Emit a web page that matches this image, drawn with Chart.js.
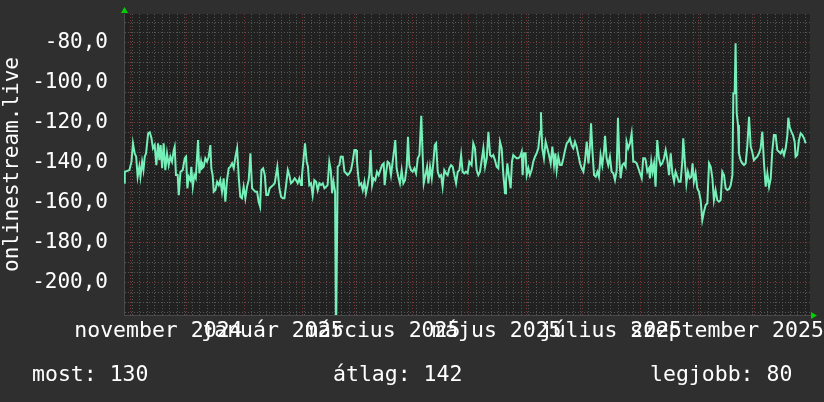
<!DOCTYPE html>
<html><head><meta charset="utf-8">
<script src="https://cdn.jsdelivr.net/npm/chart.js@4/dist/chart.umd.min.js"></script>
<style>html,body{margin:0;padding:0;background:#2f2f2f;overflow:hidden}canvas{display:block}</style>
</head><body>
<canvas id="c" width="824" height="402"></canvas>
<script>
// ---- data (x = days since 1 Nov 2024, y = signal value) ----
const seriesName = 'onlinestream.live';
const days = [-3.3,-3.0,-0.5,0.6,1.4,2.3,3.1,3.9,4.8,5.4,6.3,7.0,7.7,8.4,9.5,10.4,11.3,12.1,13.0,13.9,14.8,15.5,16.2,17.0,17.8,18.7,19.6,20.5,21.4,22.3,23.2,23.7,24.4,25.3,25.9,26.8,28.0,29.1,29.8,30.5,31.2,32.1,32.6,33.4,34.2,35.0,36.2,36.9,37.8,38.3,39.2,40.1,41.0,41.9,42.8,43.3,44.0,44.6,45.5,46.4,47.3,48.1,49.0,49.9,50.8,51.7,52.6,53.5,54.4,55.3,56.2,57.1,58.0,58.8,59.7,60.6,61.5,62.4,63.3,64.2,65.1,66.0,66.9,67.8,68.6,69.4,70.1,71.0,71.9,72.7,73.6,74.5,75.4,76.3,77.2,77.9,78.6,79.7,80.6,81.5,82.4,83.3,84.2,85.0,85.9,86.8,87.9,
88.6,89.5,90.4,91.3,91.8,92.5,93.4,94.3,95.0,95.7,96.6,97.5,98.4,99.3,100.2,101.1,102.0,102.9,103.8,104.7,105.5,106.4,107.2,107.9,108.6,109.5,110.0,110.5,110.9,111.8,112.5,113.6,114.5,115.4,116.2,117.1,118.0,118.9,119.8,120.7,121.2,121.9,122.5,123.4,124.3,125.2,126.0,126.9,127.8,128.5,129.3,130.1,131.0,131.9,132.8,133.7,134.6,135.5,136.0,136.7,137.6,138.5,139.4,140.3,141.2,141.7,142.4,143.3,144.2,145.1,146.0,146.9,147.8,148.5,149.2,150.1,151.0,151.9,152.8,153.7,154.6,155.1,155.6,156.4,156.9,157.8,158.7,159.4,160.3,161.2,162.1,162.8,163.5,164.4,165.3,166.2,167.0,167.9,168.8,169.7,170.6,171.5,172.4,173.3,174.2,175.1,176.0,176.9,177.7,178.6,179.5,180.4,181.3,
182.5,183.4,184.3,185.2,186.1,187.0,187.9,188.8,189.7,190.6,191.5,192.4,193.2,194.1,195.0,195.9,196.8,197.7,198.6,199.5,200.4,200.9,201.6,202.5,203.4,204.1,204.8,205.7,206.6,207.5,208.4,209.3,209.8,210.5,211.4,212.0,212.9,213.7,214.6,215.5,216.4,217.3,218.2,219.1,219.6,220.3,221.2,222.1,223.0,223.9,224.8,225.7,226.6,227.3,228.0,228.9,229.8,230.7,231.6,232.5,233.4,234.2,235.1,236.0,236.9,237.8,238.7,239.6,240.5,241.4,242.3,243.2,244.1,245.0,245.8,246.4,247.1,248.0,248.9,249.8,250.6,251.5,252.4,253.3,253.9,254.7,255.6,256.5,257.4,258.3,259.2,260.1,260.8,261.5,262.2,263.1,264.0,264.9,265.4,266.3,267.2,268.1,269.0,269.9,270.8,271.7,272.6,273.5,274.3,275.2,
275.6,276.5,277.4,277.9,278.6,279.3,280.1,280.9,281.8,282.7,283.6,284.5,285.4,286.3,287.2,288.1,289.0,289.9,290.8,291.6,292.5,293.4,294.3,295.2,295.7,296.5,297.4,298.2,299.1,300.0,300.7,301.4,302.3,303.2,304.1,305.0,305.9,306.8,307.7,308.6,309.5,310.4,311.3,312.1,313.0,313.9,314.8,315.7,316.6,317.5,318.4,319.3,320.2,321.1,322.0,322.5,323.2,323.7,324.3,325.0,325.5,326.4,327.3,328.2,329.1,330.0,330.9,331.8,332.6,333.5,334.4,335.3,336.2,337.1,338.0,338.9,339.8,340.7,341.6,342.5,343.3,344.2,345.1,346.0,346.9,347.8,348.7,349.6,350.5,351.4,351.9,352.6,353.5,354.4,355.3,355.8,356.7,357.6,358.5,359.4,360.3,361.2];
const values = [-150.0,-144.5,-143.7,-139.5,-130.3,-135.3,-137.0,-147.0,-142.0,-147.0,-139.5,-143.7,-137.0,-135.3,-125.3,-124.8,-127.8,-132.8,-131.2,-141.2,-130.3,-138.7,-131.2,-142.8,-130.3,-143.7,-135.3,-141.2,-137.0,-139.5,-133.7,-132.0,-146.2,-146.2,-156.2,-144.5,-143.7,-137.8,-137.0,-152.8,-147.0,-148.7,-142.0,-152.0,-146.2,-147.8,-128.7,-145.3,-139.5,-142.8,-142.0,-137.8,-139.5,-137.0,-131.2,-142.8,-146.2,-154.5,-153.7,-149.5,-151.2,-148.7,-154.5,-147.8,-159.5,-148.7,-142.8,-142.0,-140.3,-142.8,-137.0,-132.8,-147.8,-157.0,-157.8,-152.0,-157.8,-152.0,-148.7,-135.3,-152.8,-153.7,-154.5,-154.5,-159.5,-162.0,-143.7,-142.8,-146.2,-156.2,-156.2,-152.8,-152.0,-151.2,-150.3,-146.2,-142.0,-152.8,-157.0,-157.8,-157.8,-151.2,-143.7,-146.2,-150.3,-149.5,-147.8,
-148.7,-150.3,-147.8,-151.2,-146.2,-139.5,-130.3,-139.5,-142.0,-151.2,-150.3,-156.2,-148.7,-149.5,-153.7,-150.3,-151.2,-150.3,-152.8,-152.0,-151.2,-139.5,-143.7,-155.3,-149.5,-154.5,-230,-230,-142.0,-141.2,-137.0,-137.0,-144.5,-145.3,-146.2,-145.3,-143.7,-139.5,-133.7,-133.7,-139.5,-147.0,-151.2,-150.3,-153.7,-149.5,-155.3,-151.2,-146.2,-133.7,-151.2,-147.8,-148.7,-144.5,-146.2,-143.7,-141.2,-140.3,-151.2,-145.3,-139.5,-140.3,-146.2,-139.5,-132.8,-128.7,-142.8,-147.0,-150.3,-143.7,-150.3,-148.7,-142.0,-127.0,-141.2,-143.7,-144.5,-142.8,-145.3,-137.8,-136.2,-126.2,-116.5,-137.8,-150.3,-146.2,-142.0,-150.3,-142.0,-147.8,-139.5,-131.2,-130.3,-144.5,-147.0,-146.2,-152.0,-143.7,-145.3,-146.2,-142.8,-141.2,-142.0,-146.2,-150.3,-144.5,-143.7,-136.2,-144.5,-145.3,-144.5,-145.3,-139.5,
-141.2,-130.3,-132.8,-143.7,-146.2,-144.5,-138.7,-132.8,-142.0,-137.8,-124.5,-136.2,-137.0,-136.2,-138.7,-142.0,-142.8,-129.5,-132.8,-146.2,-155.3,-149.5,-140.3,-147.0,-152.8,-139.5,-136.2,-137.0,-137.8,-137.8,-137.0,-134.5,-146.2,-135.3,-135.3,-146.2,-142.8,-146.2,-143.7,-139.5,-137.0,-135.3,-132.8,-124.5,-114.8,-132.8,-137.8,-129.5,-132.8,-136.2,-140.3,-132.0,-141.2,-135.3,-143.7,-137.0,-141.2,-141.2,-137.8,-133.7,-130.3,-129.5,-127.8,-131.2,-132.8,-129.5,-132.0,-136.2,-140.3,-142.8,-144.5,-138.7,-129.5,-140.3,-132.0,-120.3,-133.7,-146.2,-147.0,-144.5,-147.0,-136.2,-141.2,-134.5,-126.5,-137.8,-141.2,-137.0,-144.5,-145.3,-148.7,-143.7,-117.5,-137.8,-147.8,-141.2,-140.3,-142.0,-129.5,-132.8,-130.3,-125.3,-139.5,-139.5,-140.3,-142.8,-145.3,-147.8,-137.8,-137.8,
-138.7,-144.5,-142.8,-147.8,-139.5,-144.5,-140.3,-152.0,-128.7,-137.8,-141.2,-140.3,-137.8,-133.7,-138.7,-146.2,-135.3,-145.3,-149.5,-144.5,-147.0,-149.5,-149.5,-139.5,-127.8,-138.7,-150.3,-144.5,-147.8,-147.0,-140.3,-149.5,-145.3,-152.8,-154.5,-158.7,-168.7,-164.5,-161.2,-160.3,-140.3,-142.0,-147.8,-158.7,-153.7,-158.7,-159.5,-158.7,-144.5,-146.2,-152.8,-153.7,-153.2,-151.2,-146.2,-105.3,-105.3,-80.3,-115.3,-121.2,-135.3,-138.7,-140.3,-141.2,-140.3,-131.2,-117.0,-132.0,-134.5,-138.7,-137.8,-137.0,-135.3,-132.8,-124.5,-140.3,-152.0,-145.3,-152.0,-147.8,-134.5,-126.2,-126.2,-133.7,-134.5,-135.3,-133.7,-136.2,-132.8,-126.2,-117.5,-122.0,-124.5,-126.2,-129.5,-137.0,-136.2,-128.7,-125.3,-126.2,-127.8,-130.3];

// month starts (days since 1 Nov 2024) for the major grid
const monthStarts = [0,30,61,92,120,151,181,212,242,273,304,334];
// minor grid every 4 days from the first day shown
const minorDays = [-3,1,5,9,13,17,21,25,29,33,37,41,45,49,53,57,61,65,69,73,77,81,85,89,93,97,101,105,109,113,117,121,125,129,133,137,141,145,149,153,157,161,165,169,173,177,181,185,189,193,197,201,205,209,213,217,221,225,229,233,237,241,245,249,253,257,261,265,269,273,277,281,285,289,293,297,301,305,309,313,317,321,325,329,333,337,341,345,349,353,357,361];
// month labels, centered mid-month
const labelDays = [15,76,135,196,257,319];
const monthLabels = ['november 2024','január 2025','március 2025','május 2025','július 2025','szeptember 2025'];
// y grid: minor step 5, labelled every 20
const yGrid = [-215,-210,-205,-200,-195,-190,-185,-180,-175,-170,-165,-160,-155,-150,-145,-140,-135,-130,-125,-120,-115,-110,-105,-100,-95,-90,-85,-80,-75,-70];
const yLabelled = [-200,-180,-160,-140,-120,-100,-80];
// legend summary
const statNames = ['most','átlag','legjobb'];
const statValues = [130,142,80];

const FONT = 'DejaVu Sans Mono';
const GRAY = '#555555', RED = '#7a3434', LINE = '#74f0b8';
const X_MIN = -3.4, X_MAX = 363.5, Y_MIN = -216.15, Y_MAX = -65.65;

const bgPlugin = {
  id: 'bg',
  beforeDraw(chart) {
    const {ctx, chartArea: a} = chart;
    ctx.save();
    ctx.fillStyle = '#2f2f2f';
    ctx.fillRect(0, 0, chart.width, chart.height);
    ctx.fillStyle = '#212121';
    ctx.fillRect(a.left, a.top, a.right - a.left, a.bottom - a.top);
    ctx.restore();
  },
  afterDraw(chart) {
    const {ctx, chartArea: a} = chart;
    ctx.save();
    ctx.fillStyle = '#00d000';
    ctx.beginPath();
    ctx.moveTo(a.left - 3, a.top - 1); ctx.lineTo(a.left + 4, a.top - 1); ctx.lineTo(a.left + 0.5, a.top - 7);
    ctx.closePath(); ctx.fill();
    ctx.beginPath();
    ctx.moveTo(a.right + 1, a.bottom - 3); ctx.lineTo(a.right + 1, a.bottom + 4); ctx.lineTo(a.right + 7, a.bottom + 0.5);
    ctx.closePath(); ctx.fill();
    ctx.fillStyle = '#ffffff';
    ctx.font = '21.5px "' + FONT + '"';
    ctx.textBaseline = 'middle';
    ctx.textAlign = 'left';
    const xs = [32, 333, 650];
    statNames.forEach((n, i) => ctx.fillText(n + ': ' + statValues[i], xs[i], 375));
    ctx.restore();
  }
};

new Chart(document.getElementById('c'), {
  type: 'line',
  data: {
    datasets: [{
      label: seriesName,
      data: days.map((d, i) => ({x: d, y: values[i]})),
      borderColor: LINE,
      borderWidth: 2,
      pointRadius: 0,
      tension: 0,
      fill: false
    }]
  },
  options: {
    responsive: false,
    animation: false,
    events: [],
    layout: {padding: {top: 14, right: 14, left: 0, bottom: 0}},
    plugins: {legend: {display: false}, tooltip: {enabled: false}},
    scales: {
      x: {
        type: 'linear', position: 'bottom', min: X_MIN, max: X_MAX, weight: 0,
        afterBuildTicks: s => { s.ticks = minorDays.filter(v => v >= X_MIN && v <= X_MAX && !monthStarts.includes(v)).map(v => ({value: v})); },
        afterFit: s => { s.height = 0; s.paddingLeft = 0; s.paddingRight = 0; },
        ticks: {display: false},
        grid: {color: GRAY, drawTicks: false, lineWidth: 1},
        border: {display: true, color: '#4a4a4a', width: 1, dash: [1, 2]}
      },
      xm: {
        type: 'linear', position: 'bottom', min: X_MIN, max: X_MAX, weight: 1,
        afterBuildTicks: s => { s.ticks = monthStarts.map(v => ({value: v})); },
        afterFit: s => { s.height = 0; s.paddingLeft = 0; s.paddingRight = 0; },
        ticks: {display: false},
        grid: {color: RED, drawTicks: false, lineWidth: 1},
        border: {display: false, dash: [1, 2]}
      },
      xl: {
        type: 'linear', position: 'bottom', min: X_MIN, max: X_MAX, weight: 2,
        afterBuildTicks: s => { s.ticks = labelDays.map(v => ({value: v})); },
        afterFit: s => { s.height = 402 - 315; s.paddingLeft = 0; s.paddingRight = 0; },
        ticks: {
          autoSkip: false, maxRotation: 0, minRotation: 0, padding: 4, color: '#ffffff',
          font: {family: FONT, size: 21.5},
          callback: (v, i) => monthLabels[i]
        },
        grid: {display: false, drawTicks: false},
        border: {display: false}
      },
      y: {
        type: 'linear', position: 'left', min: Y_MIN, max: Y_MAX,
        afterBuildTicks: s => { s.ticks = yGrid.map(v => ({value: v})); },
        afterFit: s => { s.width = 124; s.paddingTop = 0; s.paddingBottom = 0; },
        ticks: {
          autoSkip: false, padding: 16, color: '#ffffff',
          font: {family: FONT, size: 21},
          callback: v => yLabelled.includes(v) ? v.toFixed(1).replace('.', ',') : ''
        },
        grid: {
          drawTicks: false, lineWidth: 1,
          color: c => (c.tick && c.tick.value % 20 === 0) ? RED : GRAY
        },
        border: {display: true, color: '#4a4a4a', width: 1, dash: [1, 2]},
        title: {display: true, text: seriesName, color: '#ffffff', font: {family: FONT, size: 21}, padding: {top: 0, bottom: 0}}
      }
    }
  },
  plugins: [bgPlugin]
});
</script>
</body></html>
